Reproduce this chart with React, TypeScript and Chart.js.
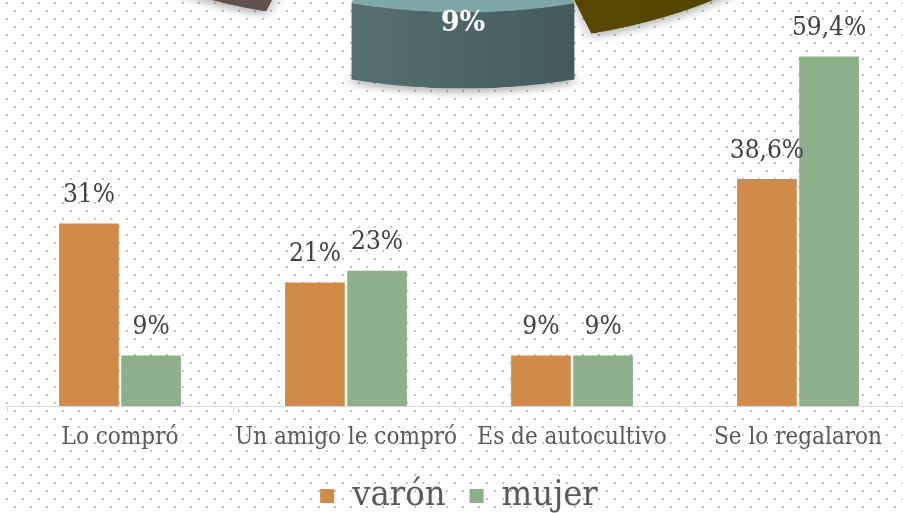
import React, { useEffect, useRef } from "react";
import { Chart, registerables } from "chart.js";

Chart.register(...registerables);

// ---- Bar chart data ----
const categories = ["Lo compró", "Un amigo le compró", "Es de autocultivo", "Se lo regalaron"];
const seriesNames = ["varón", "mujer"];
const varonValues = [31, 21, 8.6, 38.6];
const mujerValues = [8.6, 23, 8.6, 59.4];
const varonLabels = ["31%", "21%", "9%", "38,6%"];
const mujerLabels = ["9%", "23%", "9%", "59,4%"];

// ---- Partly visible pie (top of the picture) ----
const pieValues = [37, 9, 54];
const pieLabels = ["", "9%", ""];

const FONT = "'DejaVu Serif Condensed', 'DejaVu Serif', serif";
const ORANGE = "#CF8B47";
const GREEN = "#8DB08A";

// pie styling
const PIE_SCALE_Y = 0.567;
const PIE_DEPTH = 134;
const pieExplode = [17, 83, 93];
const pieTopColors = ["#7a6a12", "#80a7a7", "#7b6b67"];
const pieSideColors = [["#5c4d02", "#554700"], ["#5d787a", "#3d5254"], ["#62534f", "#584945"]];
const pieDrawOrder = [2, 0, 1];

const valueLabels = {
  id: "valueLabels",
  afterDatasetsDraw(chart: any) {
    const ctx = chart.ctx;
    ctx.save();
    ctx.font = "26px " + FONT;
    ctx.fillStyle = "#404040";
    ctx.textAlign = "center";
    ctx.textBaseline = "middle";
    const all = [varonLabels, mujerLabels];
    chart.data.datasets.forEach((_: any, i: number) => {
      const meta = chart.getDatasetMeta(i);
      meta.data.forEach((bar: any, j: number) => {
        ctx.fillText(all[i][j], bar.x, bar.y - 28);
      });
    });
    ctx.restore();
  },
};

const pie3d = {
  id: "pie3d",
  beforeDatasetsDraw(chart: any) {
    const ctx = chart.ctx;
    const meta = chart.getDatasetMeta(0);
    const arcs = meta.data;
    const sector = (a: any, dx: number, dy: number) => {
      ctx.beginPath();
      ctx.moveTo(a.x + dx, a.y + dy);
      ctx.arc(a.x + dx, a.y + dy, a.outerRadius, a.startAngle, a.endAngle);
      ctx.closePath();
      ctx.fill();
    };
    pieDrawOrder.forEach((i) => {
      const a = arcs[i];
      const mid = (a.startAngle + a.endAngle) / 2;
      const tx = Math.cos(mid) * pieExplode[i];
      const ty = Math.sin(mid) * pieExplode[i];
      const cx = a.x + tx;
      const grad = ctx.createLinearGradient(cx - a.outerRadius * 0.5, 0, cx + a.outerRadius * 0.5, 0);
      grad.addColorStop(0, pieSideColors[i][0]);
      grad.addColorStop(1, pieSideColors[i][1]);
      ctx.save();
      ctx.fillStyle = grad;
      ctx.shadowColor = "rgba(0,0,0,0.28)";
      ctx.shadowBlur = 14;
      ctx.shadowOffsetY = 8;
      sector(a, tx, ty + PIE_DEPTH);
      ctx.restore();
      ctx.save();
      ctx.fillStyle = grad;
      for (let d = PIE_DEPTH; d > 0; d -= 1.5) sector(a, tx, ty + d);
      ctx.fillStyle = pieTopColors[i];
      sector(a, tx, ty);
      ctx.restore();
      if (pieLabels[i]) {
        const r = a.outerRadius + pieExplode[i];
        const lx = a.x + Math.cos(mid) * r;
        const ly = a.y + Math.sin(mid) * r + PIE_DEPTH * 0.15;
        ctx.save();
        ctx.translate(lx, ly);
        ctx.scale(1, 1 / PIE_SCALE_Y);
        ctx.font = "bold 27px 'DejaVu Serif', serif";
        ctx.fillStyle = "#ffffff";
        ctx.textAlign = "center";
        ctx.textBaseline = "middle";
        ctx.fillText(pieLabels[i], 0, 0);
        ctx.restore();
      }
    });
    return false;
  },
};

export default function App() {
  const ref = useRef<HTMLCanvasElement | null>(null);
  const pieRef = useRef<HTMLCanvasElement | null>(null);
  useEffect(() => {
    if (!ref.current || !pieRef.current) return;
    const pie = new Chart(pieRef.current, {
      type: "pie",
      data: {
        labels: ["a", "b", "c"],
        datasets: [{ data: pieValues, backgroundColor: pieTopColors, borderWidth: 0 }],
      },
      options: {
        responsive: false,
        animation: false,
        rotation: 30.6,
        radius: 400,
        layout: { padding: { left: 23, right: 0, top: 0, bottom: 200 } },
        plugins: { legend: { display: false }, tooltip: { enabled: false } },
      },
      plugins: [pie3d],
    });
    const chart = new Chart(ref.current, {
      type: "bar",
      data: {
        labels: categories,
        datasets: [
          {
            label: seriesNames[0],
            data: varonValues,
            backgroundColor: ORANGE,
            borderWidth: 0,
            categoryPercentage: 0.55,
            barPercentage: 0.96,
          },
          {
            label: seriesNames[1],
            data: mujerValues,
            backgroundColor: GREEN,
            borderWidth: 0,
            categoryPercentage: 0.55,
            barPercentage: 0.96,
          },
        ],
      },
      options: {
        responsive: false,
        animation: false,
        layout: { padding: { left: 7, right: 9, top: 0, bottom: 0 }, autoPadding: false },
        plugins: {
          tooltip: { enabled: false },
          legend: {
            position: "bottom",
            labels: {
              font: { family: FONT, size: 36 },
              color: "#595959",
              boxWidth: 14,
              boxHeight: 14,
              padding: 24,
            },
          },
        },
        scales: {
          x: {
            grid: {
              display: true,
              drawOnChartArea: false,
              drawTicks: true,
              tickLength: 6,
              color: "#d9d9d9",
              offset: true,
            },
            border: { display: true, color: "#d9d9d9" },
            ticks: {
              font: { family: FONT, size: 24 },
              color: "#595959",
              padding: 11,
              maxRotation: 0,
              minRotation: 0,
              autoSkip: false,
            },
            afterFit: (scale: any) => {
              scale.height = 48;
            },
          },
          y: {
            display: false,
            min: 0,
            max: 69,
          },
        },
      },
      plugins: [valueLabels],
    });
    return () => {
      chart.destroy();
      pie.destroy();
    };
  }, []);

  const dot = "radial-gradient(circle at 8px 8px, #c4c4c4 0, #c4c4c4 1px, rgba(255,255,255,0) 1.6px)";
  return (
    <div
      style={{
        position: "fixed",
        left: 0,
        top: 0,
        width: 903,
        height: 513,
        overflow: "hidden",
        backgroundColor: "#ffffff",
        backgroundImage: `${dot}, ${dot}`,
        backgroundSize: "16px 16px, 16px 16px",
        backgroundPosition: "-1px -5px, 7px 3px",
      }}
    >
      <canvas
        ref={pieRef}
        width={903}
        height={1200}
        style={{
          position: "absolute",
          left: 0,
          top: -545.5,
          transform: `scaleY(${PIE_SCALE_Y})`,
          transformOrigin: "top left",
        }}
      />
      <canvas ref={ref} width={920} height={524} style={{ position: "absolute", left: 0, top: 0 }} />
    </div>
  );
}
